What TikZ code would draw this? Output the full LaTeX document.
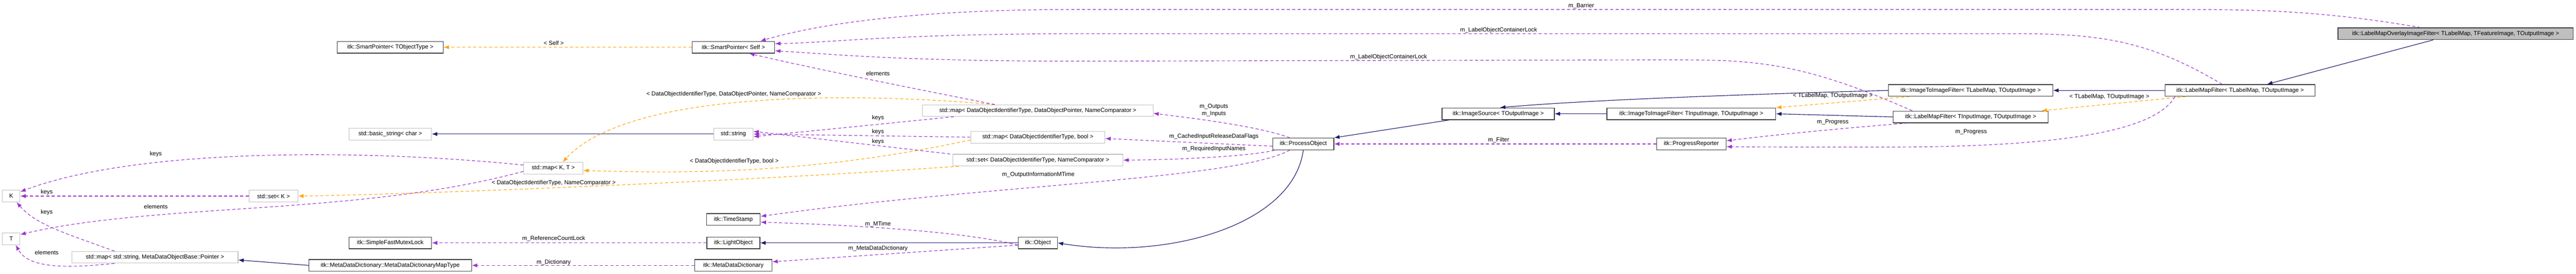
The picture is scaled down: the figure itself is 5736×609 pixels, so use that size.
\documentclass[tikz,border=0pt]{standalone}
\usepackage{fontspec}
\setmainfont{Liberation Sans}
\usetikzlibrary{arrows.meta}
\definecolor{inhc}{HTML}{191970}
\definecolor{usec}{HTML}{9A32CD}
\definecolor{tplc}{HTML}{FFA500}
\tikzset{
 box/.style={draw=black!75, line width=1.5pt, minimum height=26pt, inner sep=0pt, font=\fontsize{13}{13}\selectfont, fill=white},
 ext/.style={draw=black!25, line width=1.2pt, minimum height=26pt, inner sep=0pt, font=\fontsize{13}{13}\selectfont, fill=white},
 lbl/.style={font=\fontsize{13}{13}\selectfont, inner sep=0pt, align=center},
 inh/.style={draw=inhc, line width=1.3pt, -{Latex[length=12pt,width=9pt]}},
 usee/.style={draw=usec, line width=1.3pt, dash pattern=on 7pt off 5pt, -{Latex[length=12pt,width=9pt]}},
 tpl/.style={draw=tplc, line width=1.3pt, dash pattern=on 7pt off 5pt, -{Latex[length=12pt,width=9pt]}},
}
\begin{document}
\begin{tikzpicture}[x=1pt,y=-1pt]
\useasboundingbox (0,0) rectangle (5736,609);
% nodes
\node[ext, minimum width=39] (K) at (25,436) {K};
\node[ext, minimum width=39] (T) at (25,531) {T};
\node[ext, minimum width=109] (setK) at (609,436) {std::set< K >};
\node[ext, minimum width=370] (mapsp) at (345,572) {std::map< std::string, MetaDataObjectBase::Pointer >};
\node[box, minimum width=236] (spt) at (869,105) {itk::SmartPointer< TObjectType >};
\node[ext, minimum width=184] (bstr) at (869,298) {std::basic\_string< char >};
\node[box, minimum width=184] (sfml) at (869,540) {itk::SimpleFastMutexLock};
\node[box, minimum width=362] (mdmt) at (869,590) {itk::MetaDataDictionary::MetaDataDictionaryMapType};
\node[box, minimum width=184] (sps) at (1633,105) {itk::SmartPointer< Self >};
\node[ext, minimum width=88] (str) at (1633,298) {std::string};
\node[ext, minimum width=132] (mapKT) at (1232,374) {std::map< K, T >};
\node[box, minimum width=120] (ts) at (1633,488) {itk::TimeStamp};
\node[box, minimum width=118] (lo) at (1633,540) {itk::LightObject};
\node[box, minimum width=172] (mdd) at (1633,590) {itk::MetaDataDictionary};
\node[ext, minimum width=513] (mdop) at (2311,246) {std::map< DataObjectIdentifierType, DataObjectPointer, NameComparator >};
\node[ext, minimum width=299] (mbool) at (2311,305) {std::map< DataObjectIdentifierType, bool >};
\node[ext, minimum width=379] (sdoit) at (2311,356) {std::set< DataObjectIdentifierType, NameComparator >};
\node[box, minimum width=87] (obj) at (2311,540) {itk::Object};
\node[box, minimum width=136] (po) at (2902,320) {itk::ProcessObject};
\node[box, minimum width=250] (isrc) at (3336,253) {itk::ImageSource< TOutputImage >};
\node[box, minimum width=376] (itifi) at (3766,253) {itk::ImageToImageFilter< TInputImage, TOutputImage >};
\node[box, minimum width=155] (prog) at (3766,320) {itk::ProgressReporter};
\node[box, minimum width=366] (itifl) at (4388,201) {itk::ImageToImageFilter< TLabelMap, TOutputImage >};
\node[box, minimum width=345] (lmfi) at (4388,260) {itk::LabelMapFilter< TInputImage, TOutputImage >};
\node[box, minimum width=334] (lmfl) at (4988,201) {itk::LabelMapFilter< TLabelMap, TOutputImage >};
\node[box, minimum width=524, fill=black!25] (ovl) at (5468,75) {itk::LabelMapOverlayImageFilter< TLabelMap, TFeatureImage, TOutputImage >};
% inheritance
\draw[inh] ([xshift=-50]ovl.south) -- ([xshift=60]lmfl.north);
\draw[inh] (lmfl.west) -- (itifl.east);
\draw[inh] (itifl.west) .. controls (3800,212) and (3500,225) .. ([xshift=4]isrc.north);
\draw[inh] (lmfi.west) -- (itifi.east);
\draw[inh] (itifi.west) -- (isrc.east);
\draw[inh] ([xshift=17]isrc.south west) -- (po.north east);
\draw[inh] (po.south) .. controls (2880,500) and (2600,580) .. (obj.east);
\draw[inh] (obj.west) -- (lo.east);
\draw[inh] (mdmt.west) -- ([yshift=-6]mapsp.east);
\draw[inh] (str.west) -- (bstr.east);
% templates
\draw[tpl] ([xshift=-121]lmfl.south) -- ([xshift=-15]lmfi.north east);
\draw[tpl] ([xshift=-136]itifl.south) -- (itifi.north east);
\draw[tpl] (sps.west) -- (spt.east);
\draw[tpl] ([xshift=-96]mdop.north) .. controls (1900,205) and (1400,200) .. ([xshift=21]mapKT.north);
\draw[tpl] ([yshift=-6]mbool.west) .. controls (1800,390) and (1500,385) .. ([yshift=-5]mapKT.east);
\draw[tpl] ([xshift=14]sdoit.south west) .. controls (1700,400) and (1000,430) .. (setK.east);
% usage
\draw[usee] ([xshift=-78]ovl.north) .. controls (5150,20) and (5000,21) .. (4800,21) -- (2400,21) .. controls (2000,21) and (1800,60) .. ([xshift=60]sps.north);
\draw[usee] ([xshift=-40]lmfl.north) .. controls (4800,100) and (4700,75) .. (4500,75) -- (2400,75) .. controls (2000,75) and (1850,95) .. ([yshift=8]sps.east);
\draw[usee] ([xshift=-130]lmfi.north) .. controls (4000,133) and (3900,133) .. (3700,133) -- (2400,136) .. controls (2000,136) and (1850,120) .. ([yshift=-8]sps.east);
\draw[usee] ([xshift=-96]mdop.north) .. controls (2000,190) and (1800,150) .. ([xshift=35]sps.south);
\draw[usee] ([xshift=70]mdop.south west) -- ([yshift=-6]str.east);
\draw[usee] (mbool.west) -- (str.east);
\draw[usee] ([xshift=-5]sdoit.north west) -- ([yshift=6]str.east);
\draw[usee] ([xshift=-30]po.north) .. controls (2800,280) and (2650,262) .. ([yshift=-6]mdop.east);
\draw[usee] ([yshift=-5]po.west) -- ([yshift=-3]mbool.east);
\draw[usee] ([xshift=5]po.south west) .. controls (2800,345) and (2650,355) .. (sdoit.east);
\draw[usee] ([xshift=-30]po.south) .. controls (2750,400) and (2200,410) .. ([yshift=7]ts.east);
\draw[usee] ([yshift=-5]obj.west) .. controls (2150,515) and (1900,500) .. ([yshift=-6]ts.east);
\draw[usee] ([yshift=-5]obj.west) -- ([yshift=8]mdd.east);
\draw[usee] (lo.west) -- (sfml.east);
\draw[usee] (mdd.west) -- (mdmt.east);
\draw[usee] (prog.west) -- (po.east);
\draw[usee] ([xshift=-140]lmfi.south) .. controls (4100,285) and (3950,300) .. ([yshift=7]prog.east);
\draw[usee] ([xshift=-145]lmfl.south) .. controls (4800,290) and (4600,327) .. (4200,327) .. controls (4000,327) and (3900,327) .. ([yshift=-6]prog.east);
\draw[usee] ([yshift=7]mapKT.west) .. controls (800,330) and (300,330) .. ([yshift=-4]K.north east);
\draw[usee] ([yshift=-7]mapKT.west) .. controls (800,480) and (350,450) .. ([yshift=-4]T.north east);
\draw[usee] (setK.west) -- (K.east);
\draw[usee] ([xshift=-90]mapsp.north) .. controls (150,520) and (80,500) .. ([xshift=12]K.south);
\draw[usee] ([xshift=-90]mapsp.south) .. controls (120,600) and (60,590) .. ([xshift=10]T.south);
% labels
\node[lbl] (l1) at (3521,13) {m\_Barrier};
\node[lbl] (l2) at (3337,67) {m\_LabelObjectContainerLock};
\node[lbl] (l3) at (3092,127) {m\_LabelObjectContainerLock};
\node[lbl] (l4) at (3337,311) {m\_Filter};
\node[lbl] (l5) at (4081,213) {< TLabelMap, TOutputImage >};
\node[lbl] (l6) at (4697,215) {< TLabelMap, TOutputImage >};
\node[lbl] (l7) at (4081,272) {m\_Progress};
\node[lbl] (l8) at (4389,293) {m\_Progress};
\node[lbl] (l9) at (1955,163) {elements};
\node[lbl] (l10) at (1634,209) {< DataObjectIdentifierType, DataObjectPointer, NameComparator >};
\node[lbl] (l11) at (1955,262) {keys};
\node[lbl] (l12) at (1955,293) {keys};
\node[lbl] (l13) at (1955,315) {keys};
\node[lbl, align=center] (l14) at (2703,245) {m\_Outputs\\[3pt]m\_Inputs};
\node[lbl] (l15) at (2703,304) {m\_CachedInputReleaseDataFlags};
\node[lbl] (l16) at (2703,331) {m\_RequiredInputNames};
\node[lbl] (l17) at (2312,388) {m\_OutputInformationMTime};
\node[lbl] (l18) at (1955,498) {m\_MTime};
\node[lbl] (l19) at (1955,552) {m\_MetaDataDictionary};
\node[lbl] (l20) at (1233,96) {< Self >};
\node[lbl] (l21) at (1635,359) {< DataObjectIdentifierType, bool >};
\node[lbl] (l22) at (1233,407) {< DataObjectIdentifierType, NameComparator >};
\node[lbl] (l23) at (1233,531) {m\_ReferenceCountLock};
\node[lbl] (l24) at (1233,583) {m\_Dictionary};
\node[lbl] (l25) at (347,342) {keys};
\node[lbl] (l26) at (104,427) {keys};
\node[lbl] (l27) at (347,459) {elements};
\node[lbl] (l28) at (104,472) {keys};
\node[lbl] (l29) at (104,562) {elements};
\end{tikzpicture}
\end{document}
